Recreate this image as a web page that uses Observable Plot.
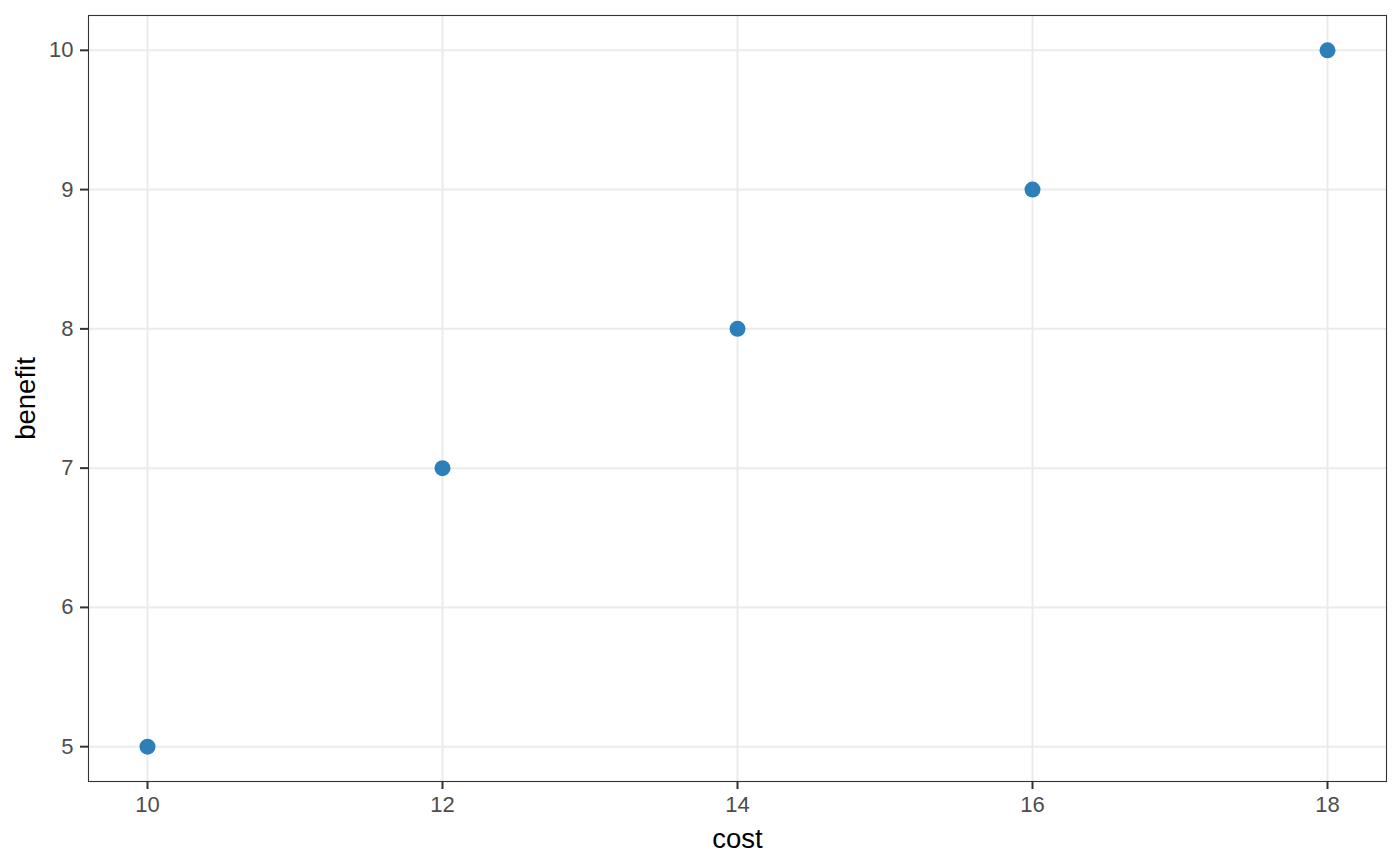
<!DOCTYPE html>
<html>
<head>
<meta charset="utf-8">
<script src="https://cdn.jsdelivr.net/npm/d3@7"></script>
<script src="https://cdn.jsdelivr.net/npm/@observablehq/plot@0.6"></script>
<style>
  html, body { margin: 0; padding: 0; background: #fff; }
  #chart svg { font-family: "Liberation Sans", Arial, sans-serif; display: block; }
</style>
</head>
<body>
<div id="chart"></div>
<script>
const cost = [10, 12, 14, 16, 18];
const benefit = [5, 7, 8, 9, 10];
const xTicks = [10, 12, 14, 16, 18];
const yTicks = [5, 6, 7, 8, 9, 10];
const xTitle = "cost";
const yTitle = "benefit";

const data = cost.map((c, i) => ({cost: c, benefit: benefit[i]}));

const chart = Plot.plot({
  width: 1400,
  height: 866,
  marginLeft: 88,
  marginRight: 14,
  marginTop: 15,
  marginBottom: 85,
  style: {fontFamily: "'Liberation Sans', Arial, sans-serif", background: "#fff"},
  x: {domain: [9.6, 18.4]},
  y: {domain: [4.75, 10.25]},
  marks: [
    Plot.gridX(xTicks, {stroke: "#EBEBEB", strokeOpacity: 1, strokeWidth: 2}),
    Plot.gridY(yTicks, {stroke: "#EBEBEB", strokeOpacity: 1, strokeWidth: 2}),
    Plot.frame({stroke: "#333333", strokeWidth: 1.1}),
    Plot.axisX(xTicks, {tickSize: 8, tickPadding: 7, fontSize: 22, stroke: "#333333", strokeWidth: 2, fill: "#4D4D4D", label: null, tickFormat: d => String(d)}),
    Plot.axisY(yTicks, {tickSize: 8, tickPadding: 7, fontSize: 22, stroke: "#333333", strokeWidth: 2, fill: "#4D4D4D", label: null, tickFormat: d => String(d)}),
    Plot.axisX([], {label: xTitle, labelAnchor: "center", labelArrow: "none", labelOffset: 66, fontSize: 27.5, fill: "#000", tickSize: 0}),
    Plot.axisY([], {label: yTitle, labelAnchor: "center", labelArrow: "none", labelOffset: 73, fontSize: 27.5, fill: "#000", tickSize: 0}),
    Plot.dot(data, {x: "cost", y: "benefit", r: 8, fill: "#2C7FB8", stroke: "none"})
  ]
});
document.getElementById("chart").appendChild(chart);
</script>
</body>
</html>
